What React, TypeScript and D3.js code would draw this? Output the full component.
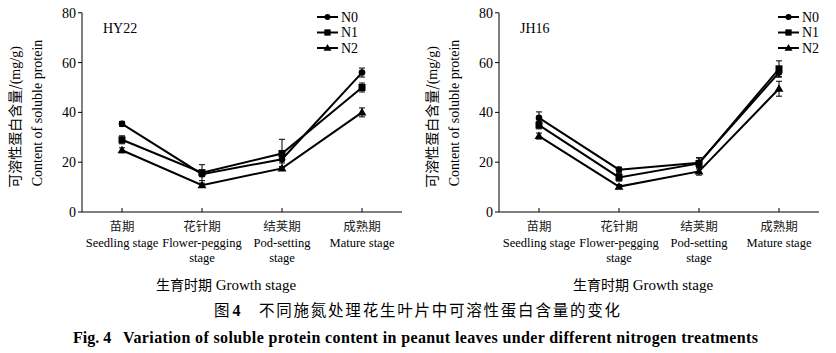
import React from "react";
import * as d3 from "d3";

const stagesCn = ["苗期", "花针期", "结荚期", "成熟期"];
const stagesEn1 = ["Seedling stage", "Flower-pegging", "Pod-setting", "Mature stage"];
const stagesEn2 = ["", "stage", "stage", ""];
const seriesNames = ["N0", "N1", "N2"];
const yTicks = [0, 20, 40, 60, 80];

// HY22
const hyN0 = [35.4, 15.2, 21.2, 56.0];
const hyN1 = [29.0, 15.8, 23.5, 50.0];
const hyN2 = [24.8, 10.8, 17.5, 40.0];
const hyErrN0 = [1.0, 1.0, 1.5, 1.8];
const hyErrN1 = [1.6, 3.2, 5.7, 1.8];
const hyErrN2 = [1.0, 0.8, 0.8, 1.8];

// JH16
const jhN0 = [37.8, 17.0, 19.8, 56.0];
const jhN1 = [34.9, 13.9, 19.5, 57.5];
const jhN2 = [30.5, 10.2, 16.3, 49.5];
const jhErrN0 = [2.4, 1.0, 2.0, 1.8];
const jhErrN1 = [1.5, 1.5, 2.2, 3.2];
const jhErrN2 = [1.2, 0.8, 1.5, 3.0];

const SERIF = "'Liberation Serif', 'Times New Roman', serif";
const CJK = "'Noto Sans CJK SC', sans-serif";

type PanelProps = {
  x0: number;
  label: string;
  values: number[][];
  errs: number[][];
  legendX: number;
};

function Marker({ kind, x, y, s = 1 }: { kind: number; x: number; y: number; s?: number }) {
  if (kind === 0) return <circle cx={x} cy={y} r={3.3 * s} fill="#000" />;
  if (kind === 1) return <rect x={x - 3.5 * s} y={y - 3.5 * s} width={7 * s} height={7 * s} fill="#000" />;
  const p = d3.symbol().type(d3.symbolTriangle).size(34 * s * s)();
  return <path d={p || ""} transform={`translate(${x},${y + 0.5})`} fill="#000" />;
}

function Panel({ x0, label, values, errs, legendX }: PanelProps) {
  const left = x0;
  const right = x0 + 320;
  const top = 12.8;
  const bottom = 212;
  const x = d3.scalePoint<number>().domain([0, 1, 2, 3]).range([left, right]).padding(0.5);
  const y = d3.scaleLinear().domain([0, 80]).range([bottom, top]);
  const line = d3
    .line<number>()
    .x((_, i) => x(i) as number)
    .y((d) => y(d));
  return (
    <g>
      <line x1={left} x2={left} y1={top} y2={bottom} stroke="#000" strokeWidth={1} />
      <line x1={left} x2={right} y1={bottom} y2={bottom} stroke="#000" strokeWidth={1} />
      {yTicks.map((t) => (
        <g key={t}>
          <line x1={left - 4} x2={left} y1={y(t)} y2={y(t)} stroke="#000" />
          <text x={left - 6} y={y(t)} dy="0.35em" textAnchor="end" fontFamily={SERIF} fontSize={14}>
            {t}
          </text>
        </g>
      ))}
      {stagesCn.map((s, i) => (
        <g key={s}>
          <line x1={x(i)} x2={x(i)} y1={bottom} y2={bottom - 4} stroke="#000" />
          <text x={x(i)} y={231} textAnchor="middle" fontFamily={CJK} fontSize={12.5} fill="#222">
            {s}
          </text>
          <text x={x(i)} y={247} textAnchor="middle" fontFamily={SERIF} fontSize={12.5}>
            {stagesEn1[i]}
          </text>
          <text x={x(i)} y={262} textAnchor="middle" fontFamily={SERIF} fontSize={12.5}>
            {stagesEn2[i]}
          </text>
        </g>
      ))}
      <text x={(left + right) / 2 - 16} y={290} textAnchor="middle" fontSize={15}>
        <tspan fontFamily={CJK} fontSize={14}>生育时期</tspan>
        <tspan fontFamily={SERIF}> Growth stage</tspan>
      </text>
      <text transform={`translate(${x0 - 62},117) rotate(-90)`} textAnchor="middle" fontSize={14}>
        <tspan fontFamily={CJK}>可溶性蛋白含量/</tspan>
        <tspan fontFamily={SERIF}>(mg/g)</tspan>
      </text>
      <text
        transform={`translate(${x0 - 40},113) rotate(-90)`}
        textAnchor="middle"
        fontFamily={SERIF}
        fontSize={14}
      >
        Content of soluble protein
      </text>
      <text x={x0 + 21} y={33} fontFamily={SERIF} fontSize={14}>
        {label}
      </text>
      {values.map((vals, si) =>
        vals.map((v, i) => {
          const e = errs[si][i];
          const cx = x(i) as number;
          return (
            <g key={`e${si}-${i}`} stroke="#000" strokeWidth={1}>
              <line x1={cx} x2={cx} y1={y(v - e)} y2={y(v + e)} />
              <line x1={cx - 3} x2={cx + 3} y1={y(v + e)} y2={y(v + e)} />
              <line x1={cx - 3} x2={cx + 3} y1={y(v - e)} y2={y(v - e)} />
            </g>
          );
        })
      )}
      {values.map((vals, si) => (
        <path key={`l${si}`} d={line(vals) || ""} fill="none" stroke="#000" strokeWidth={2} />
      ))}
      {values.map((vals, si) =>
        vals.map((v, i) => <Marker key={`m${si}-${i}`} kind={si} x={x(i) as number} y={y(v)} />)
      )}
      {seriesNames.map((n, si) => {
        const ly = 17 + si * 15.5;
        return (
          <g key={n}>
            <line x1={legendX} x2={legendX + 21} y1={ly} y2={ly} stroke="#000" strokeWidth={2} />
            <Marker kind={si} x={legendX + 10.5} y={ly} s={0.9} />
            <text x={legendX + 24} y={ly} dy="0.35em" fontFamily={SERIF} fontSize={14}>
              {n}
            </text>
          </g>
        );
      })}
    </g>
  );
}

export default function App() {
  return (
    <svg width={836} height={353} style={{ position: "absolute", left: 0, top: 0, background: "#fff" }}>
      <rect width={836} height={353} fill="#fff" />
      <Panel x0={82} label="HY22" values={[hyN0, hyN1, hyN2]} errs={[hyErrN0, hyErrN1, hyErrN2]} legendX={317} />
      <Panel x0={499} label="JH16" values={[jhN0, jhN1, jhN2]} errs={[jhErrN0, jhErrN1, jhErrN2]} legendX={778} />
      <text x={214} y={316} fontFamily={CJK} fontSize={15.5}>
        图<tspan dx={3} fontFamily={SERIF} fontWeight="bold" fontSize={16}>4</tspan>
      </text>
      <text x={259} y={316} fontFamily={CJK} fontSize={15.5} textLength={361} lengthAdjust="spacing">
        不同施氮处理花生叶片中可溶性蛋白含量的变化
      </text>
      <text x={73} y={343} fontFamily={SERIF} fontSize={16} fontWeight="bold">
        Fig. 4
      </text>
      <text x={123} y={343} fontFamily={SERIF} fontSize={16} fontWeight="bold" textLength={635} lengthAdjust="spacing">
        Variation of soluble protein content in peanut leaves under different nitrogen treatments
      </text>
    </svg>
  );
}
